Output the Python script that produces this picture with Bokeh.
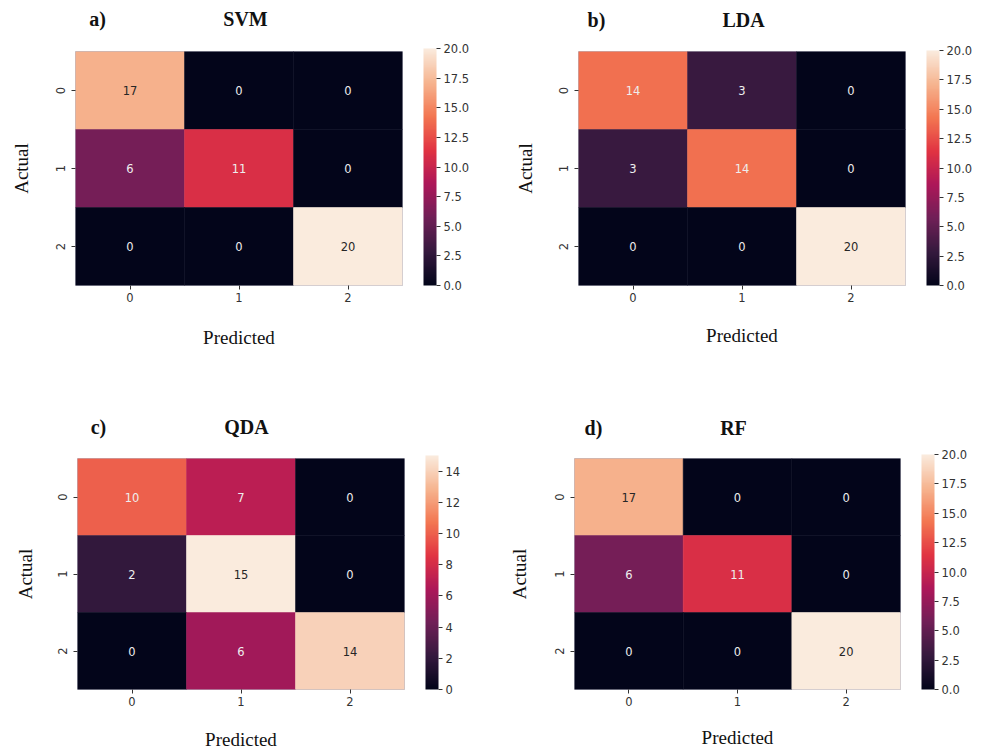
from bokeh.plotting import figure
from bokeh.models import (LinearColorMapper, ColorBar, FixedTicker, LinearAxis,
                          ColumnDataSource, PrintfTickFormatter, Range1d)
from bokeh.layouts import column, row
from bokeh.transform import transform
from bokeh.embed import file_html
from bokeh.resources import INLINE
from bokeh.core.properties import value

# ---------------- data ----------------
classes = ["0", "1", "2"]
svm_cm = [[17, 0, 0], [6, 11, 0], [0, 0, 20]]
lda_cm = [[14, 3, 0], [3, 14, 0], [0, 0, 20]]
qda_cm = [[10, 7, 0], [2, 15, 0], [0, 6, 14]]
rf_cm = [[17, 0, 0], [6, 11, 0], [0, 0, 20]]
panel_letters = ["a)", "b)", "c)", "d)"]
model_names = ["SVM", "LDA", "QDA", "RF"]
cbar_ticks_20 = [0.0, 2.5, 5.0, 7.5, 10.0, 12.5, 15.0, 17.5, 20.0]
cbar_ticks_15 = [0, 2, 4, 6, 8, 10, 12, 14]

# ---------------- rocket colormap (style) ----------------
anchors = ["#03051a", "#35193e", "#701f57", "#ad1759", "#e13342",
           "#f37651", "#f6b48f", "#faebdd"]
def _rgb(h):
    return tuple(int(h[i:i + 2], 16) for i in (1, 3, 5))
anc = [_rgb(h) for h in anchors]
rocket = []
N = 256
for k in range(N):
    t = k / (N - 1) * (len(anc) - 1)
    i = min(int(t), len(anc) - 2)
    f = t - i
    c = tuple(round(anc[i][j] + (anc[i + 1][j] - anc[i][j]) * f) for j in range(3))
    rocket.append("#%02x%02x%02x" % c)

def _lum(h):
    r, g, b = [v / 255 for v in _rgb(h)]
    def lin(c):
        return c / 12.92 if c <= 0.03928 else ((c + 0.055) / 1.055) ** 2.4
    return 0.2126 * lin(r) + 0.7152 * lin(g) + 0.0722 * lin(b)

SERIF = "Liberation Serif"
SANS = "DejaVu Sans"

# per-panel geometry (pixels, relative to each figure's canvas / frame)
geom = [
    dict(FW=493, FH=376, L=75, T=48, W=327, H=237, lx=22, tx=170, ts=22, xs=22, ys=21),
    dict(FW=492, FH=376, L=85, T=51, W=327, H=235, lx=18, tx=165, ts=21, xs=20, ys=20),
    dict(FW=493, FH=376, L=77, T=81, W=327, H=234, lx=21, tx=169, ts=21, xs=20, ys=19),
    dict(FW=492, FH=376, L=81, T=82, W=326, H=235, lx=19, tx=159, ts=20, xs=18, ys=22),
]

n = len(classes)
centers = [k + 0.5 for k in range(n)]
tick_overrides = {c: lab for c, lab in zip(centers, classes)}


def make_panel(cm, letter, name, ticks, fmt, g):
    vals = [v for r in cm for v in r]
    lo, hi = min(vals), max(vals)
    mapper = LinearColorMapper(palette=rocket, low=lo, high=hi)
    xs, ys, cs, labels, tcol = [], [], [], [], []
    for ri, r in enumerate(cm):
        for ci, v in enumerate(r):
            xs.append(centers[ci])
            ys.append(centers[ri])
            cs.append(v)
            labels.append(str(v))
            idx = int(round((v - lo) / (hi - lo) * (N - 1)))
            tcol.append("#262626" if _lum(rocket[idx]) > 0.408 else "#eeeeee")
    src = ColumnDataSource(dict(pred=xs, actual=ys, count=cs, label=labels, tcolor=tcol))

    p = figure(width=g["FW"], height=g["FH"],
               x_range=Range1d(0, n), y_range=Range1d(n, 0),
               min_border_left=g["L"], min_border_top=g["T"],
               min_border_right=g["FW"] - g["L"] - g["W"],
               min_border_bottom=g["FH"] - g["T"] - g["H"],
               output_backend="svg", toolbar_location=None)
    p.rect(x="pred", y="actual", width=1, height=1, source=src,
           fill_color=transform("count", mapper),
           line_color=transform("count", mapper), line_width=0.5)
    p.text(x="pred", y="actual", text="label", source=src,
           text_align="center", text_baseline="middle",
           text_font=value(SANS), text_font_size="11.5px", text_color="tcolor")

    p.grid.visible = False
    p.outline_line_color = "#b8b8c4"
    p.outline_line_width = 1
    p.background_fill_color = "white"
    p.border_fill_color = "white"

    for ax in (p.xaxis, p.yaxis):
        ax.ticker = FixedTicker(ticks=centers)
        ax.major_label_overrides = tick_overrides
        ax.axis_line_color = None
        ax.major_tick_in = 0
        ax.major_tick_out = 4
        ax.major_tick_line_color = "#333333"
        ax.minor_tick_line_color = None
        ax.major_label_text_font = SANS
        ax.major_label_text_font_size = "11.5px"
        ax.major_label_text_color = "#333333"
        ax.axis_label_text_font = SERIF
        ax.axis_label_text_font_style = "normal"
        ax.axis_label_text_font_size = "19px"
        ax.axis_label_text_color = "#111111"
    p.xaxis.axis_label = "Predicted"
    p.yaxis.axis_label = "Actual"
    p.xaxis.major_label_standoff = 3
    p.yaxis.major_label_standoff = 7
    p.yaxis.major_label_orientation = "vertical"
    p.xaxis.axis_label_standoff = int(g["xs"])
    p.yaxis.axis_label_standoff = int(g["ys"])

    cb = ColorBar(color_mapper=mapper, ticker=FixedTicker(ticks=ticks),
                  formatter=PrintfTickFormatter(format=fmt),
                  width=13, height=g["H"], padding=0, margin=0,
                  location=(21, 0),
                  major_tick_in=0, major_tick_out=4,
                  major_tick_line_color="#333333", minor_tick_line_color=None,
                  major_label_text_font=SANS, major_label_text_font_size="11.5px",
                  major_label_text_color="#333333", label_standoff=3,
                  bar_line_color=None, border_line_color=None,
                  background_fill_color=None)
    p.add_layout(cb, "right")

    # panel letter and model name as a tick-less header row above the frame
    p.extra_x_ranges = {"hdr": Range1d(0, g["W"])}
    hdr = LinearAxis(x_range_name="hdr",
                     ticker=FixedTicker(ticks=[g["lx"], g["tx"]]),
                     major_label_overrides={g["lx"]: letter, g["tx"]: name})
    hdr.axis_line_color = None
    hdr.major_tick_line_color = None
    hdr.minor_tick_line_color = None
    hdr.major_tick_out = 0
    hdr.major_tick_in = 0
    hdr.major_label_standoff = int(g["ts"])
    hdr.major_label_text_font = SERIF
    hdr.major_label_text_font_style = "bold"
    hdr.major_label_text_font_size = "20px"
    hdr.major_label_text_color = "#111111"
    p.add_layout(hdr, "above")
    return p


pa = make_panel(svm_cm, panel_letters[0], model_names[0], cbar_ticks_20, "%.1f", geom[0])
pb = make_panel(lda_cm, panel_letters[1], model_names[1], cbar_ticks_20, "%.1f", geom[1])
pc = make_panel(qda_cm, panel_letters[2], model_names[2], cbar_ticks_15, "%d", geom[2])
pd = make_panel(rf_cm, panel_letters[3], model_names[3], cbar_ticks_20, "%.1f", geom[3])

layout = column(row(pa, pb, spacing=0), row(pc, pd, spacing=0), spacing=0)
open("out.html", "w").write(file_html(layout, INLINE))
